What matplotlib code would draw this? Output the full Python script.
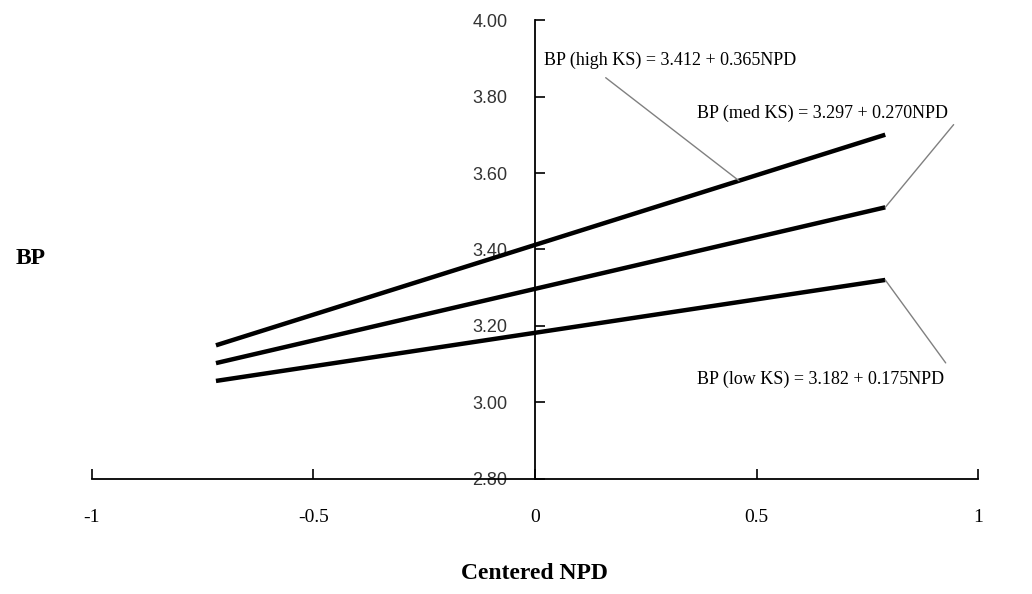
"""Simple slopes of BP on centered NPD at three levels of KS."""

import matplotlib

matplotlib.use("Agg")
import matplotlib.pyplot as plt

# NPD range used for the simple slopes (about -1 SD to +1 SD)
npd_range = [-0.72, 0.79]

groups = ["high", "med", "low"]
intercepts = [3.412, 3.297, 3.182]
slopes = [0.365, 0.270, 0.175]

x_ticks = [-1, -0.5, 0, 0.5, 1]
x_tick_labels = ["-1", "-0.5", "0", "0.5", "1"]
y_ticks = [2.8, 3.0, 3.2, 3.4, 3.6, 3.8, 4.0]

# where each leader line touches its line (NPD value) and where its label sits
leader_x = [0.46, 0.79, 0.79]
label_pos = [(0.02, 3.895), (0.365, 3.755), (0.365, 3.06)]
leader_relpos = [(0.20, 0.0), (1.03, 0.0), (1.03, 1.0)]
leader_shrink = [7, 2, 7]


def main():
    fig, ax = plt.subplots(figsize=(10.32, 5.94), dpi=100)
    fig.subplots_adjust(left=0.089, right=0.948, bottom=0.194, top=0.966)

    for b0, b1 in zip(intercepts, slopes):
        ys = [b0 + b1 * x for x in npd_range]
        ax.plot(npd_range, ys, color="black", lw=3.2, solid_capstyle="butt", zorder=3)

    for g, b0, b1, lx, (tx, ty), rp, sh in zip(
        groups, intercepts, slopes, leader_x, label_pos, leader_relpos, leader_shrink
    ):
        text = f"BP ({g} KS) = {b0:.3f} + {b1:.3f}NPD"
        ax.annotate(
            text,
            xy=(lx, b0 + b1 * lx),
            xytext=(tx, ty),
            fontsize=13,
            family="Liberation Serif",
            ha="left",
            va="center",
            arrowprops=dict(arrowstyle="-", color="#808080", lw=1.0,
                            shrinkA=sh, shrinkB=0, relpos=rp),
        )

    ax.set_xlim(-1, 1)
    ax.set_ylim(2.8, 4.0)
    ax.spines["left"].set_position(("data", 0))
    ax.spines["top"].set_visible(False)
    ax.spines["right"].set_visible(False)
    for side in ["left", "bottom"]:
        ax.spines[side].set_linewidth(1.3)

    ax.set_xticks(x_ticks)
    ax.set_xticklabels(x_tick_labels, family="Liberation Serif", fontsize=14)
    ax.set_yticks(y_ticks)
    ax.set_yticklabels([f"{v:.2f}" for v in y_ticks], family="Liberation Sans",
                       fontsize=13, color="#333333")
    ax.tick_params(axis="x", direction="in", length=7, width=1.2, pad=22)
    ax.tick_params(axis="y", direction="in", length=7, width=1.2, pad=20)

    fig.text(0.518, 0.035, "Centered NPD", ha="center", va="center",
             family="Liberation Serif", fontweight="bold", fontsize=17)
    fig.text(0.015, 0.565, "BP", ha="left", va="center",
             family="Liberation Serif", fontweight="bold", fontsize=17)

    fig.savefig("out.png", dpi=100, facecolor="white")


if __name__ == "__main__":
    main()
